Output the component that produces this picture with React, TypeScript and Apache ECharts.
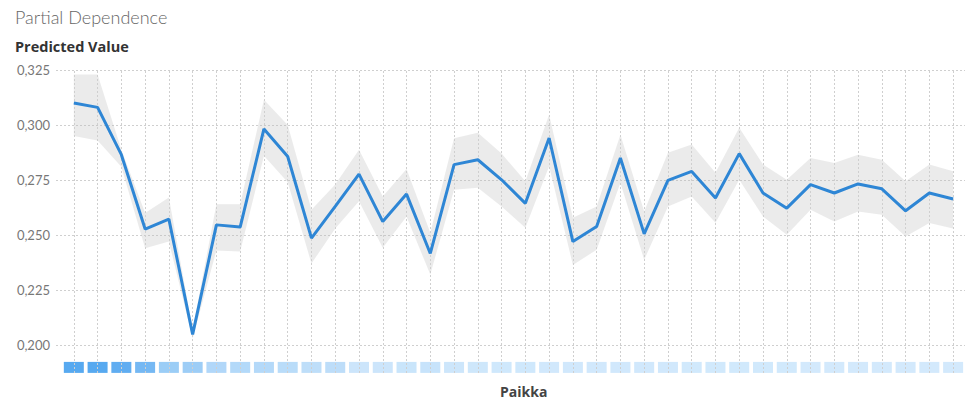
import React, { useEffect, useRef } from "react";
import * as echarts from "echarts";

// Partial dependence of the predicted value on "Paikka" (location level index)
const predicted = [
  0.31, 0.308, 0.2865, 0.2527, 0.2572, 0.2048, 0.2546, 0.2536, 0.2982, 0.2857,
  0.2486, 0.263, 0.2777, 0.2561, 0.2686, 0.2416, 0.282, 0.2842, 0.2751, 0.2644,
  0.2941, 0.247, 0.2539, 0.285, 0.2505, 0.2748, 0.2789, 0.2668, 0.287, 0.2691,
  0.2622, 0.2729, 0.2691, 0.2732, 0.271, 0.261, 0.2691, 0.2664,
];

const upperBound = [
  0.323, 0.323, 0.2888, 0.26, 0.267, 0.207, 0.264, 0.264, 0.3115, 0.3,
  0.2615, 0.273, 0.2888, 0.2675, 0.28, 0.251, 0.294, 0.2965, 0.287, 0.2744,
  0.3047, 0.2578, 0.263, 0.2956, 0.2607, 0.2874, 0.2911, 0.2783, 0.2987, 0.282,
  0.2751, 0.285, 0.2827, 0.2865, 0.2842, 0.2744, 0.282, 0.279,
];

const lowerBound = [
  0.295, 0.293, 0.281, 0.244, 0.247, 0.203, 0.243, 0.2425, 0.286, 0.274,
  0.237, 0.253, 0.2653, 0.2442, 0.2584, 0.232, 0.2706, 0.2715, 0.263, 0.2533,
  0.2812, 0.2364, 0.2433, 0.2738, 0.2387, 0.263, 0.2675, 0.2556, 0.2751, 0.2584,
  0.2501, 0.2615, 0.2561, 0.2607, 0.2592, 0.2493, 0.2554, 0.253,
];

// Observation counts per level, shown as the shaded strip under the plot
const frequency = [
  110, 110, 103, 86, 55, 54, 38, 36, 35, 31, 27, 28, 16, 16, 18, 20, 15, 14, 13,
  13, 12, 12, 12, 12, 12, 12, 11, 11, 11, 11, 11, 10, 10, 10, 10, 10, 10, 10,
];

const yTicks = { min: 0.2, max: 0.325, step: 0.025 };

const levels = predicted.map((_, i) => i);

export default function App() {
  const ref = useRef<HTMLDivElement>(null);

  useEffect(() => {
    if (!ref.current) return;
    const chart = echarts.init(ref.current, null, { renderer: "svg" });
    const font = "Lato, 'Open Sans', sans-serif";
    const labelFont = "'Open Sans', Lato, sans-serif";
    const gridLine = { type: [2, 2] as number[], color: "#cfcfcf", width: 1 };
    const xRange = { min: -0.75, max: 37.5 };

    const verticalLines = (name: string) => ({
      silent: true,
      symbol: ["none", "none"],
      label: { show: false },
      lineStyle: gridLine,
      emphasis: { disabled: true },
      data: levels.map((i) => ({ name, xAxis: i })),
    });

    // Confidence band drawn as one polygon: upper edge left→right, lower edge right→left
    const renderBand = (params: any, api: any) => {
      if (params.dataIndex !== 0) return null;
      const top = levels.map((i) => api.coord([i, upperBound[i]]));
      const bottom = levels
        .slice()
        .reverse()
        .map((i) => api.coord([i, lowerBound[i]]));
      return {
        type: "polygon",
        shape: { points: top.concat(bottom) },
        style: { fill: "rgba(190,190,190,0.3)", stroke: "none" },
        silent: true,
      };
    };

    chart.setOption({
      animation: false,
      backgroundColor: "#ffffff",
      textStyle: { fontFamily: font },
      title: [
        {
          text: "Partial Dependence",
          left: 15,
          top: 8,
          padding: 0,
          textStyle: { fontFamily: font, fontSize: 18, fontWeight: 300, color: "#666666" },
        },
        {
          text: "Predicted Value",
          left: 15,
          top: 39,
          padding: 0,
          textStyle: { fontFamily: labelFont, fontSize: 14.5, fontWeight: "bold", color: "#333333" },
        },
      ],
      graphic: [
        {
          type: "text",
          left: 500,
          top: 384,
          style: {
            text: "Paikka",
            fontFamily: labelFont,
            fontSize: 14,
            fontWeight: "bold",
            fill: "#444444",
          },
        },
      ],
      grid: [
        { left: 56, right: -28, top: 70, height: 275 },
        { left: 56, right: -28, top: 345, height: 28 },
      ],
      xAxis: [
        { type: "value", gridIndex: 0, ...xRange, show: false },
        { type: "value", gridIndex: 1, ...xRange, show: false },
      ],
      yAxis: [
        {
          type: "value",
          gridIndex: 0,
          min: yTicks.min,
          max: yTicks.max,
          interval: yTicks.step,
          axisLine: { show: false },
          axisTick: { show: false },
          axisLabel: {
            fontFamily: font,
            fontSize: 13,
            color: "#777777",
            margin: 6,
            formatter: (v: number) => v.toFixed(3).replace(".", ","),
          },
          splitLine: { show: true, lineStyle: gridLine },
        },
        { type: "value", gridIndex: 1, min: 0, max: 1, show: false },
      ],
      visualMap: {
        show: false,
        type: "continuous",
        seriesIndex: 2,
        dimension: 2,
        min: Math.min(...frequency),
        max: Math.max(...frequency),
        inRange: { color: ["#c8e4fb", "#2d93ec"] },
      },
      series: [
        {
          name: "band",
          type: "custom",
          xAxisIndex: 0,
          yAxisIndex: 0,
          renderItem: renderBand,
          data: levels.map((i) => [i, lowerBound[i], upperBound[i]]),
          encode: { x: 0, y: [1, 2] },
          markLine: verticalLines("grid"),
          z: 2,
        },
        {
          name: "Predicted Value",
          type: "line",
          xAxisIndex: 0,
          yAxisIndex: 0,
          symbol: "none",
          lineStyle: { color: "#2e86d5", width: 3 },
          data: levels.map((i) => [i, predicted[i]]),
          z: 5,
        },
        {
          name: "frequency",
          type: "scatter",
          xAxisIndex: 1,
          yAxisIndex: 1,
          symbol: "rect",
          symbolSize: [20, 11],
          data: levels.map((i) => [i, 0.2, frequency[i]]),
          markLine: verticalLines("rug"),
          z: 3,
        },
      ],
    });

    return () => chart.dispose();
  }, []);

  return (
    <div
      ref={ref}
      style={{ position: "absolute", left: 0, top: 0, width: 965, height: 403, background: "#fff" }}
    />
  );
}
